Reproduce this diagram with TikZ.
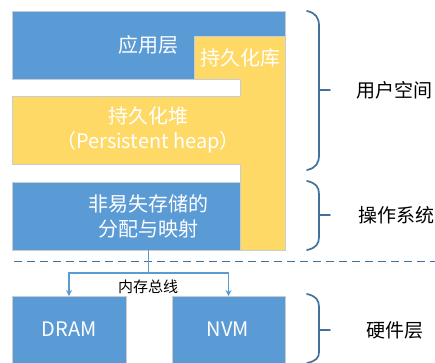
\documentclass[tikz,border=0pt]{standalone}
\usepackage{fontspec}
\setmainfont{Noto Sans CJK SC}
\usetikzlibrary{arrows.meta}
\definecolor{boxblue}{HTML}{5B9BD5}
\definecolor{boxyellow}{HTML}{FFD966}
\definecolor{edgegray}{HTML}{C8CDD5}
\definecolor{bracecol}{HTML}{41719C}
\tikzset{
  layerbox/.style={draw=edgegray, line width=0.6pt, anchor=north west, inner sep=0pt, outer sep=0pt},
  bluebox/.style={layerbox, fill=boxblue},
  yellowbox/.style={layerbox, fill=boxyellow},
  boxtext/.style={text=white, font=\fontsize{20}{25}\selectfont, align=center, inner sep=0pt},
  sidelabel/.style={text=black, font=\fontsize{19}{23}\selectfont, inner sep=0pt},
  busarrow/.style={draw=boxblue, line width=1.1pt, -{Stealth[length=6pt,width=6pt]}},
  busline/.style={draw=boxblue, line width=1.1pt},
  bracestyle/.style={draw=bracecol, line width=1.7pt, line cap=round},
  divider/.style={draw=bracecol, line width=1pt, dash pattern=on 8pt off 5pt},
}
\begin{document}
\begin{tikzpicture}[x=1pt,y=-1pt]
\useasboundingbox (0,0) rectangle (435,362);
\fill[white] (0,0) rectangle (435,362);

% layer boxes
\node[bluebox, minimum width=273pt, minimum height=68pt] (app) at (12,11) {};
\node[yellowbox, minimum width=273pt, minimum height=68pt] (heap) at (12,96) {};
\node[bluebox, minimum width=273pt, minimum height=68pt] (os) at (12,182) {};
\node[bluebox, minimum width=114pt, minimum height=70pt] (dram) at (12,296) {};
\node[bluebox, minimum width=113pt, minimum height=70pt] (nvm) at (172,296) {};

% persistence library (L shape)
\fill[boxyellow] (194,36) -- (285,36) -- (285,250) -- (240,250) -- (240,79) -- (194,79) -- cycle;
\draw[edgegray, line width=0.6pt] (240,96) -- (240,79) -- (194,79) -- (194,36) -- (285,36) -- (285,250) -- (240,250) -- (240,182);
\draw[edgegray, line width=0.6pt] (240,164) -- (240,182);

% texts
\node[boxtext] (apptext) at (148,45) {应用层};
\node[boxtext] (libtext) at (240,58) {持久化库};
\node[boxtext] (heaptext) at (148,130) {持久化堆\\（Persistent heap）};
\node[boxtext] (ostext) at (148,216) {非易失存储的\\分配与映射};
\node[boxtext] (dramtext) at (69,329) {DRAM};
\node[boxtext] (nvmtext) at (228,329) {NVM};

% divider
\coordinate (divL) at (14,261);
\coordinate (divR) at (435,261);
\draw[divider] (divL) -- (divR);

% memory bus
\coordinate (bus) at ([yshift=-23pt]os.south);
\draw[busline] (os.south) -- (bus);
\draw[busarrow] (bus) -| (dram.north);
\draw[busarrow] (bus) -| (nvm.north);
\node[text=black, font=\fontsize{15}{18}\selectfont, inner sep=0pt] (bustext) at (148,287) {内存总线};

% braces
\draw[bracestyle] (307,11) .. controls (316,13) and (319,18) .. (319,26) -- (319,155) .. controls (319,163) and (316,168) .. (307,170);
\draw[bracestyle] (319,90) -- (330,90);
\draw[bracestyle] (307,181) .. controls (316,183) and (319,187) .. (319,194) -- (319,237) .. controls (319,244) and (316,248) .. (307,250);
\draw[bracestyle] (319,215) -- (330,215);
\draw[bracestyle] (307,294) .. controls (316,296) and (319,300) .. (319,307) -- (319,352) .. controls (319,358) and (316,361) .. (307,363);
\draw[bracestyle] (319,330) -- (330,330);

% side labels
\node[sidelabel, anchor=west] (userlabel) at (356,90) {用户空间};
\node[sidelabel, anchor=west] (oslabel) at (358,215) {操作系统};
\node[sidelabel, anchor=west] (hwlabel) at (366,330) {硬件层};
\end{tikzpicture}
\end{document}
